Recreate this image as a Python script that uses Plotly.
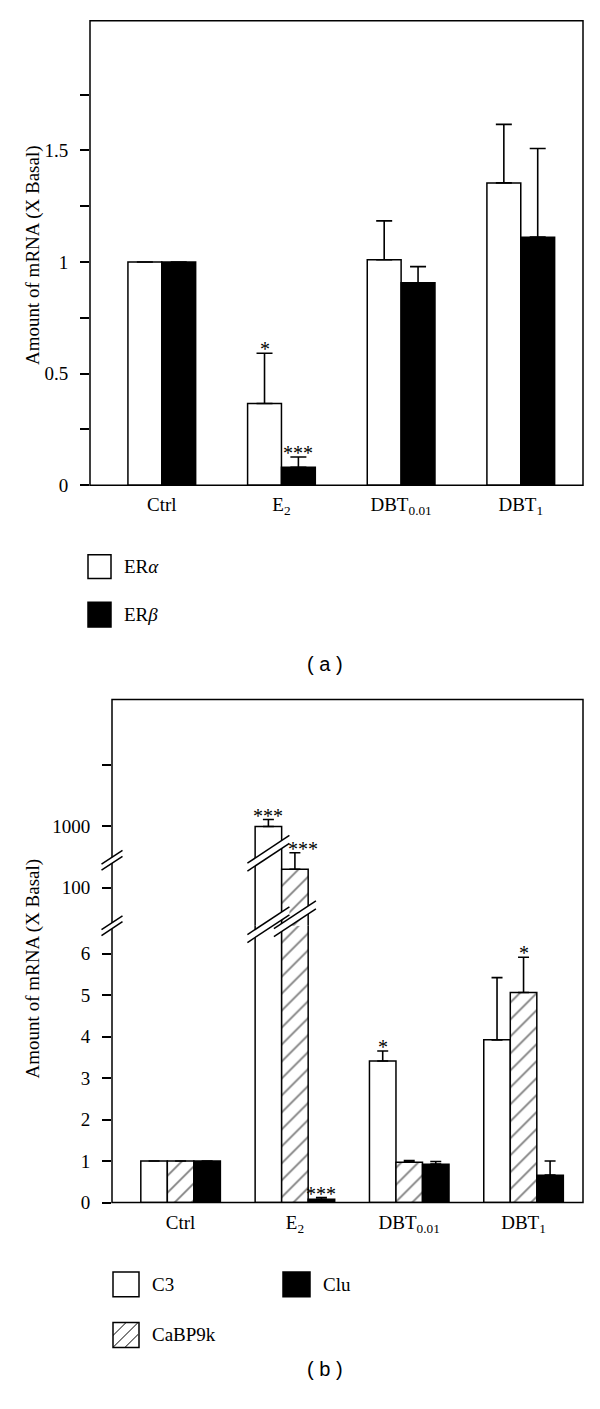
import math
import plotly.graph_objects as go

W, H = 600, 1409
SERIF = "Liberation Serif"
SANS = "Liberation Sans"

# ---------------- data ----------------
categories = ["Ctrl", "E<sub>2</sub>", "DBT<sub>0.01</sub>", "DBT<sub>1</sub>"]
positions = [0, 1, 2, 3]

# Panel (a): ER alpha / ER beta
er_alpha = [1.0, 0.366, 1.01, 1.354]
er_alpha_err = [None, 0.225, 0.174, 0.262]
er_alpha_sig = ["", "*", "", ""]
er_beta = [1.0, 0.08, 0.907, 1.111]
er_beta_err = [None, 0.046, 0.072, 0.397]
er_beta_sig = ["", "***", "", ""]

# Panel (b): C3 / CaBP9k / Clu
c3 = [1.0, 1000.0, 3.41, 3.92]
c3_err = [None, 301.0, 0.24, 1.50]
c3_sig = ["", "***", "*", ""]
cabp9k = [1.0, 199.0, 0.97, 5.06]
cabp9k_err = [None, 172.0, 0.04, 0.85]
cabp9k_sig = ["", "***", "", "*"]
clu = [1.0, 0.08, 0.925, 0.66]
clu_err = [None, 0.04, 0.065, 0.34]
clu_sig = ["", "***", "", ""]

y_ticks_a = [0, 0.5, 1, 1.5]
y_ticktext_a = ["0", "0.5", "1", "1.5"]
y_minor_a = [0.25, 0.75, 1.25, 1.75]
y_ticks_b_low = [0, 1, 2, 3, 4, 5, 6]
y_ticktext_b_low = ["0", "1", "2", "3", "4", "5", "6"]
y_ticks_b_high = [100, 1000]
y_ticktext_b_high = ["100", "1000"]
y_minor_b_high = [10000]

y_title = "Amount of mRNA (X Basal)"


# ---------------- helpers ----------------
def px(x):
    return x / W


def py(y):
    return 1 - y / H


X_RANGE = [-0.6, 3.52]
XA = (90, 583)     # pixel extent of panel (a) x axis
XB = (112, 583)    # pixel extent of panel (b) x axis
ppu_b = (XB[1] - XB[0]) / (X_RANGE[1] - X_RANGE[0])

W_A = 0.283
W_B = 0.232
LW = 1.5

fig = go.Figure()


def add_bars(name, vals, errs, xaxis, yaxis, offset, width, fill, pattern=None, cap=6):
    marker = dict(color=fill, line=dict(color="black", width=LW))
    if pattern is not None:
        marker["pattern"] = pattern
    fig.add_trace(go.Bar(
        x=positions, y=vals, name=name, xaxis=xaxis, yaxis=yaxis,
        offset=offset, width=width, marker=marker, showlegend=False,
        hoverinfo="skip",
        error_y=dict(type="data", array=errs, arrayminus=[0] * len(errs),
                     symmetric=False, color="black", thickness=1.6, width=cap),
    ))


# panel (a)
add_bars("ERα", er_alpha, er_alpha_err, "x", "y", -W_A, W_A, "white", cap=8)
add_bars("ERβ", er_beta, er_beta_err, "x", "y", 0, W_A, "black", cap=8)

# panel (b) drawn on both the linear (y2) and the log (y3) segment
hatch = dict(shape="/", fgcolor="black", bgcolor="white", size=12, solidity=0.15)
for ya in ["y2", "y3"]:
    add_bars("C3", c3, c3_err, "x2", ya, -1.5 * W_B, W_B, "white", cap=5.5)
    add_bars("CaBP9k", cabp9k, cabp9k_err, "x2", ya, -0.5 * W_B, W_B, "white",
             pattern=hatch, cap=5.5)
    add_bars("Clu", clu, clu_err, "x2", ya, 0.5 * W_B, W_B, "black", cap=5.5)

annotations = []


def add_sig(sigs, vals, errs, xref, offset, width, log_split=None, left_vals=None):
    for i, s in enumerate(sigs):
        if not s:
            continue
        top = vals[i] + (errs[i] or 0)
        yref = "y"
        yv = top
        if log_split is not None:
            if top > log_split:
                yref = "y3"
                yv = math.log10(top)
            else:
                yref = "y2"
        xs = 0
        if left_vals is not None and left_vals[i] > top:
            xs = 8
        annotations.append(dict(
            x=positions[i] + offset + width / 2, y=yv, xref=xref, yref=yref,
            text=s, showarrow=False, yanchor="bottom", xanchor="center",
            xshift=xs, yshift=-9,
            font=dict(family=SERIF, size=20, color="black")))


add_sig(er_alpha_sig, er_alpha, er_alpha_err, "x", -W_A, W_A)
add_sig(er_beta_sig, er_beta, er_beta_err, "x", 0, W_A)
add_sig(c3_sig, c3, c3_err, "x2", -1.5 * W_B, W_B, log_split=6.67)
add_sig(cabp9k_sig, cabp9k, cabp9k_err, "x2", -0.5 * W_B, W_B, log_split=6.67, left_vals=c3)
add_sig(clu_sig, clu, clu_err, "x2", 0.5 * W_B, W_B, log_split=6.67)

# axis titles
for yc in [257, 976]:
    annotations.append(dict(x=px(33), y=py(yc), xref="paper", yref="paper",
                            text=y_title, textangle=-90, showarrow=False,
                            xanchor="center", yanchor="middle",
                            font=dict(family=SERIF, size=19, color="black")))

# panel labels
annotations.append(dict(x=px(325), y=py(669), xref="paper", yref="paper", text="( a )",
                        showarrow=False, font=dict(family=SANS, size=20, color="black")))
annotations.append(dict(x=px(325), y=py(1393), xref="paper", yref="paper", text="( b )",
                        showarrow=False, font=dict(family=SANS, size=20, color="black")))

shapes = []
# frames
shapes.append(dict(type="rect", xref="paper", yref="paper", x0=px(XA[0]), x1=px(XA[1]),
                   y0=py(489), y1=py(21), line=dict(color="black", width=LW)))
shapes.append(dict(type="rect", xref="paper", yref="paper", x0=px(XB[0]), x1=px(XB[1]),
                   y0=py(1212), y1=py(705), line=dict(color="black", width=LW)))


def break_mark(cx, cy, hx, hy, sep, xref):
    """cx in pixels (xref='paper') or data units (xref='x2'); hx, hy, sep in pixels."""
    if xref == "paper":
        fx = lambda d: px(cx + d)
    else:
        fx = lambda d: cx + d / ppu_b
    p1 = (fx(-hx), py(cy + hy - sep / 2))
    p2 = (fx(hx), py(cy - hy - sep / 2))
    p3 = (fx(hx), py(cy - hy + sep / 2))
    p4 = (fx(-hx), py(cy + hy + sep / 2))
    poly = "M {0},{1} L {2},{3} L {4},{5} L {6},{7} Z".format(*p1, *p2, *p3, *p4)
    shapes.append(dict(type="path", xref=xref, yref="paper", path=poly,
                       fillcolor="white", line=dict(width=0)))
    for a, b in [(p1, p2), (p4, p3)]:
        shapes.append(dict(type="line", xref=xref, yref="paper", x0=a[0], y0=a[1],
                           x1=b[0], y1=b[1], line=dict(color="black", width=LW)))


# axis breaks
break_mark(XB[0], 867, 10.5, 7, 6, "paper")
break_mark(XB[0], 933, 10.5, 7, 6, "paper")
# bar breaks (E2 group)
c3_e2_x = positions[1] - 1.5 * W_B + W_B / 2
cabp_e2_x = positions[1] - 0.5 * W_B + W_B / 2
break_mark(c3_e2_x, 860, 21, 14, 8, "x2")
break_mark(c3_e2_x, 932, 21, 14, 8, "x2")
break_mark(cabp_e2_x, 926, 21, 14, 8, "x2")


# legends
def legend_box(x0, y0, x1, y1, fill, label, hatch_lines=False):
    shapes.append(dict(type="rect", xref="paper", yref="paper", x0=px(x0), x1=px(x1),
                       y0=py(y1), y1=py(y0), fillcolor=fill,
                       line=dict(color="black", width=LW)))
    if hatch_lines:
        s = min(x1 - x0, y1 - y0)
        for c in [-12, 0, 12]:
            if c >= 0:
                u0, v0, u1, v1 = c, 0, s, s - c
            else:
                u0, v0, u1, v1 = 0, -c, s + c, s
            shapes.append(dict(type="line", xref="paper", yref="paper",
                               x0=px(x0 + u0), y0=py(y1 - v0), x1=px(x0 + u1), y1=py(y1 - v1),
                               line=dict(color="black", width=1)))
    annotations.append(dict(x=px(x1 + 11), y=py((y0 + y1) / 2), xref="paper", yref="paper",
                            text=label, showarrow=False, xanchor="left", yanchor="middle",
                            font=dict(family=SERIF, size=19, color="black")))


legend_box(88, 559, 111, 583, "white", "ER<i>α</i>")
legend_box(88, 607, 111, 632, "black", "ER<i>β</i>")
legend_box(113, 1282, 139, 1307, "white", "C3")
legend_box(283, 1282, 310, 1307, "black", "Clu")
legend_box(113, 1333, 139, 1358, "white", "CaBP9k", hatch_lines=True)

tickfont = dict(family=SERIF, size=19, color="black")
minor_style = dict(ticks="outside", ticklen=9, tickwidth=LW, tickcolor="black",
                   showgrid=False)
common_x = dict(range=X_RANGE, tickvals=positions, ticktext=categories, ticks="",
                showgrid=False, zeroline=False, showline=False, tickfont=tickfont,
                ticklabelstandoff=6, fixedrange=True)
common_y = dict(ticks="outside", ticklen=9, tickwidth=LW, tickcolor="black",
                showgrid=False, zeroline=False, showline=False, tickfont=tickfont,
                ticklabelstandoff=8, tickmode="array", fixedrange=True)

fig.update_layout(
    width=W, height=H, margin=dict(l=0, r=0, t=0, b=0),
    paper_bgcolor="white", plot_bgcolor="white", showlegend=False,
    barmode="overlay", hovermode=False,
    xaxis=dict(domain=[px(XA[0]), px(XA[1])], anchor="y", **common_x),
    yaxis=dict(domain=[py(489), py(21)], anchor="x", range=[0, 2.08],
               tickvals=y_ticks_a, ticktext=y_ticktext_a,
               minor=dict(tickmode="array", tickvals=y_minor_a, **minor_style), **common_y),
    xaxis2=dict(domain=[px(XB[0]), px(XB[1])], anchor="y2", **common_x),
    yaxis2=dict(domain=[py(1212), py(933)], anchor="x2", range=[0, 6.67],
                tickvals=y_ticks_b_low, ticktext=y_ticktext_b_low, **common_y),
    yaxis3=dict(domain=[py(933), py(705)], anchor="x2", type="log",
                range=[1.374, 5.081], tickvals=y_ticks_b_high,
                ticktext=y_ticktext_b_high,
                minor=dict(tickmode="array", tickvals=y_minor_b_high, **minor_style),
                **common_y),
    annotations=annotations, shapes=shapes,
)

fig.write_html("out.html", config={"displayModeBar": False},
               post_script="document.body.style.margin='0';")
